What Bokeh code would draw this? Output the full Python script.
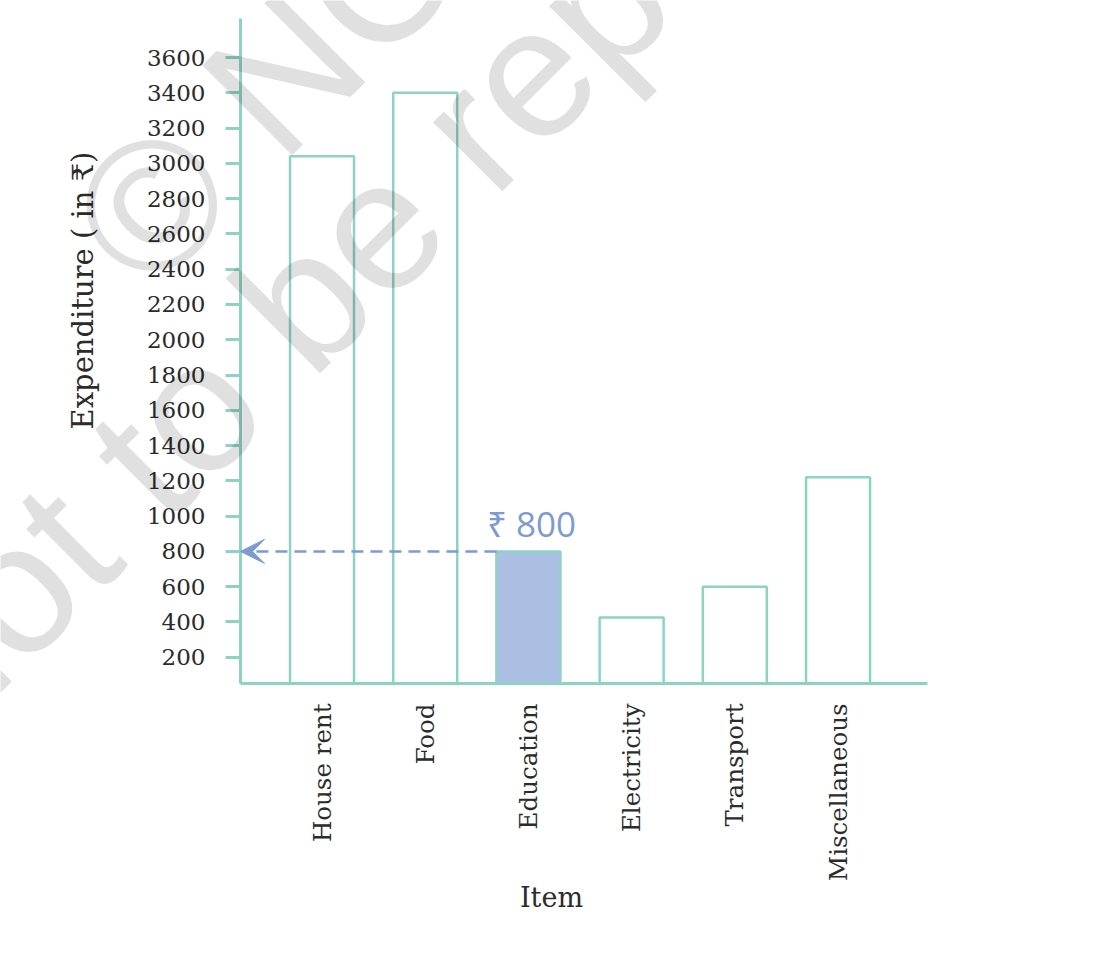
import math
from bokeh.plotting import figure
from bokeh.models import (Range1d, Label, Arrow, VeeHead, FixedTicker, ColumnDataSource)
from bokeh.core.properties import value
from bokeh.embed import file_html
from bokeh.resources import INLINE

# ---- data ----
categories = ["House rent", "Food", "Education", "Electricity", "Transport", "Miscellaneous"]
expenditure = [3040, 3400, 800, 425, 600, 1220]
highlight = "Education"
y_ticks = [200, 400, 600, 800, 1000, 1200, 1400, 1600, 1800, 2000,
           2200, 2400, 2600, 2800, 3000, 3200, 3400, 3600]
y_title = "Expenditure ( in ₹)"
x_title = "Item"
note_text = "₹ 800"
watermark_lines = ["© NCERT", "not to be republished"]

# ---- style / layout ----
MINT = "#8dd2c3"
BLUE_FILL = "#aabfe2"
BLUE = "#7d9bd0"
TEXT = "#2b2b2b"
SERIF = "DejaVu Serif"

W, H = 1095, 950
ZERO_PX = 692                       # canvas y of value 0 on the tick scale
YS = (ZERO_PX - 57) / 3600          # px per unit (y)
AX_X, AX_Y, AX_TOP, AX_RIGHT = 240, 683, 18, 927   # axis lines in canvas px
XS = 103.2                          # px per category step
LEFT_PAD, BAR_W = 0.29, 0.62

idx = list(range(len(categories)))
x_axis_start = -0.5 - LEFT_PAD
x_axis_end = x_axis_start + (AX_RIGHT - AX_X) / XS


def dx(px):
    return x_axis_start + (px - AX_X) / XS


def dy(py):
    return (ZERO_PX - py) / YS


x_axis_level = dy(AX_Y)
y_axis_top = dy(AX_TOP)

p = figure(width=W, height=H, output_backend="svg", toolbar_location=None,
           x_range=Range1d(dx(0), dx(W)), y_range=Range1d(dy(H), dy(0)),
           min_border=0)
p.outline_line_color = None
p.xgrid.grid_line_color = None
p.ygrid.grid_line_color = None
p.background_fill_color = "white"
p.border_fill_color = "white"

fills = [BLUE_FILL if c == highlight else "white" for c in categories]
src = ColumnDataSource(dict(x=idx, val=expenditure, fill=fills))
p.vbar(x="x", top="val", width=BAR_W, bottom=x_axis_level, source=src,
       fill_color="fill", line_color=MINT, line_width=2.5)

# y axis
p.yaxis.fixed_location = x_axis_start
p.yaxis.bounds = (x_axis_level, y_axis_top)
p.yaxis.ticker = FixedTicker(ticks=y_ticks)
p.yaxis.axis_line_color = MINT
p.yaxis.axis_line_width = 3
p.yaxis.major_tick_line_color = MINT
p.yaxis.major_tick_line_width = 3
p.yaxis.major_tick_out = 15
p.yaxis.major_tick_in = 0
p.yaxis.minor_tick_line_color = None
p.yaxis.major_label_standoff = 20
p.yaxis.major_label_text_font = SERIF
p.yaxis.major_label_text_font_size = "23px"
p.yaxis.major_label_text_color = TEXT

# x axis
p.xaxis.fixed_location = x_axis_level
p.xaxis.bounds = (x_axis_start, x_axis_end)
p.xaxis.ticker = FixedTicker(ticks=idx)
p.xaxis.major_label_overrides = {i: c for i, c in zip(idx, categories)}
p.xaxis.axis_line_color = MINT
p.xaxis.axis_line_width = 3
p.xaxis.major_tick_line_color = None
p.xaxis.major_tick_out = 0
p.xaxis.major_tick_in = 0
p.xaxis.minor_tick_line_color = None
p.xaxis.major_label_orientation = math.pi / 2
p.xaxis.major_label_standoff = 20
p.xaxis.major_label_text_font = SERIF
p.xaxis.major_label_text_font_size = "24.5px"
p.xaxis.major_label_text_color = TEXT

# highlighted value: dashed arrow to the axis and its note
hi = categories.index(highlight)
hv = expenditure[hi]
p.add_layout(Arrow(x_start=idx[hi] - BAR_W / 2, y_start=hv,
                   x_end=x_axis_start, y_end=hv,
                   line_color=BLUE, line_width=2.5, line_dash="12 7",
                   end=VeeHead(size=24, fill_color=BLUE, line_color=BLUE, line_width=1)))
p.text(x=[idx[hi]], y=[hv], text=[note_text], y_offset=-4, x_offset=3,
       text_align="center", text_baseline="bottom",
       text_font=value("Open Sans"), text_font_size="35px", text_color=BLUE)

# axis titles
p.add_layout(Label(x=dx(82), y=dy(290), text=y_title, angle=math.pi / 2,
                   text_align="center", text_baseline="middle", text_font=SERIF,
                   text_font_size="29px", text_color=TEXT))
p.add_layout(Label(x=dx(551), y=dy(897), text=x_title, text_align="center",
                   text_baseline="middle", text_font=SERIF,
                   text_font_size="27px", text_color=TEXT))

# watermark
wm_angle = math.radians(45)
for txt, (wx, wy) in zip(watermark_lines, [(103, 253), (-98, 700)]):
    p.add_layout(Label(x=dx(wx), y=dy(wy), text=txt, angle=wm_angle,
                       text_align="left", text_baseline="alphabetic",
                       text_font="Liberation Sans", text_font_size="185px",
                       text_color="black", text_alpha=0.12))

open("out.html", "w").write(file_html(p, INLINE))
